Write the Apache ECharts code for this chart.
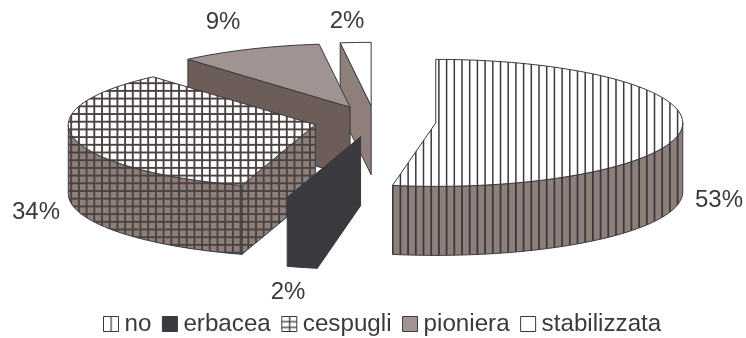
<!DOCTYPE html>
<html><head><meta charset="utf-8">
<style>html,body{margin:0;padding:0;background:#fff}#c{width:746px;height:338px}</style>
<script src="https://cdn.jsdelivr.net/npm/echarts@6/dist/echarts.min.js"></script>
</head><body><div id="c"></div>
<script>
// data
const categories = ['no', 'erbacea', 'cespugli', 'pioniera', 'stabilizzata'];
const percentages = [52.8, 2.0, 33.8, 9.4, 2.0];

// layout
const W = 746, H = 338;
const CX = 375, CY = 121.5, RX = 247, RY = 63.5, DEPTH = 69, EXPLODE = 61;
const labelCentres = [[719, 200], [288, 292], [36, 212], [223, 22], [347, 21]];
const INK = '#3a393d', GRID = '#4a4341', SIDE = '#8f7f7b', FONT_FAMILY = '"Liberation Sans", Arial, sans-serif';

function tile(w, h, bg, color, draw) {
  const c = document.createElement('canvas');
  c.width = w; c.height = h;
  const g = c.getContext('2d');
  g.fillStyle = bg; g.fillRect(0, 0, w, h);
  g.fillStyle = color;
  draw(g);
  return {image: c, repeat: 'repeat'};
}
const STEP = 7.7, N = 10, P = STEP * N;
function vLines(g, lw, off, h) { for (let i = -1; i <= N; i++) g.fillRect(off + i * STEP - lw / 2, 0, lw, h); }
function hLines(g, lw, off, w) { for (let i = -1; i <= N; i++) g.fillRect(0, off + i * STEP - lw / 2, w, lw); }
const VT = tile(P, 4, '#ffffff', INK, g => vLines(g, 1.5, 0, 4));
const VS = tile(P, 4, SIDE, INK, g => vLines(g, 1.8, 0, 4));
const GX = 1.9, GY = 6.2;
const GT = tile(P, P, '#ffffff', GRID, g => { vLines(g, 1.9, GX, P); hLines(g, 1.9, GY, P); });
const GS = tile(P, P, SIDE, GRID, g => { vLines(g, 1.9, GX, P); hLines(g, 1.9, GY, P); });

const sliceStyles = [
  {top: VT, side: VS, cut: VS},
  {top: INK, side: INK, cut: INK},
  {top: GT, side: GS, cut: GS},
  {top: '#a09391', side: SIDE, cut: '#6d5d59'},
  {top: '#ffffff', side: SIDE, cut: SIDE}
];
const legendIcons = [
  tile(15, 15, '#fff', INK, g => g.fillRect(7, 0, 1.2, 15)),
  INK,
  tile(15, 15, '#fff', '#5c4f4c', g => { g.fillRect(7, 0, 1.5, 15); g.fillRect(0, 4.5, 15, 1.5); g.fillRect(0, 10, 15, 1.5); }),
  '#a09391',
  '#ffffff'
];

const total = percentages.reduce((a, b) => a + b, 0);
const rad = d => d * Math.PI / 180;
function at(ox, oy, deg) { return [ox + RX * Math.sin(rad(deg)), oy - RY * Math.cos(rad(deg))]; }
function arc(ox, oy, a, b) {
  const pts = [], n = Math.max(2, Math.ceil(Math.abs(b - a) / 2));
  for (let i = 0; i <= n; i++) pts.push(at(ox, oy, a + (b - a) * i / n));
  return pts;
}

function makeRender(index) {
  return function () {
    const sum = percentages.slice(0, index).reduce((a, b) => a + b, 0);
    const a0 = sum / total * 360, a1 = (sum + percentages[index]) / total * 360, mid = (a0 + a1) / 2;
    const ox = CX + EXPLODE * Math.sin(rad(mid));
    const oy = CY - EXPLODE * Math.cos(rad(mid)) * RY / RX;
    const st = sliceStyles[index];
    const line = {stroke: INK, lineWidth: 1, lineJoin: 'round'};
    const children = [];
    const poly = (points, fill) => children.push({type: 'polygon', shape: {points}, style: Object.assign({fill}, line)});
    // cut face on the starting edge shows when the slice lies above that edge
    if (a0 > 180) {
      const p = at(ox, oy, a0);
      poly([[ox, oy], p, [p[0], p[1] + DEPTH], [ox, oy + DEPTH]], st.cut);
    }
    // outer wall on the front half of the ellipse
    const f0 = Math.max(a0, 90), f1 = Math.min(a1, 270);
    if (f1 > f0) {
      const tp = arc(ox, oy, f0, f1);
      const bt = tp.map(p => [p[0], p[1] + DEPTH]).reverse();
      poly(tp.concat(bt), st.side);
    }
    poly([[ox, oy]].concat(arc(ox, oy, a0, a1)), st.top);
    const lc = labelCentres[index];
    children.push({type: 'text', style: {text: Math.round(percentages[index]) + '%', x: lc[0], y: lc[1], font: '24px ' + FONT_FAMILY, fill: INK, textAlign: 'center', textVerticalAlign: 'middle'}});
    return {type: 'group', children};
  };
}

const series = categories.map((name, i) => ({
  type: 'custom', name, coordinateSystem: 'none', data: [[percentages[i]]],
  renderItem: makeRender(i), itemStyle: {color: INK}, silent: true
})).reverse();

const chart = echarts.init(document.getElementById('c'), null, {renderer: 'canvas', width: W, height: H});
chart.setOption({
  animation: false,
  backgroundColor: '#fff',
  tooltip: {show: false},
  legend: {
    left: 103, top: 312, orient: 'horizontal', itemWidth: 15, itemHeight: 15, itemGap: 10.5,
    selectedMode: false, padding: 0,
    textStyle: {fontSize: 24.2, fontFamily: FONT_FAMILY, color: INK, padding: [0, 0, 0, 1]},
    data: categories.map((name, i) => ({name, icon: 'rect', itemStyle: {color: legendIcons[i], borderColor: INK, borderWidth: 1}}))
  },
  series
});
</script></body></html>
